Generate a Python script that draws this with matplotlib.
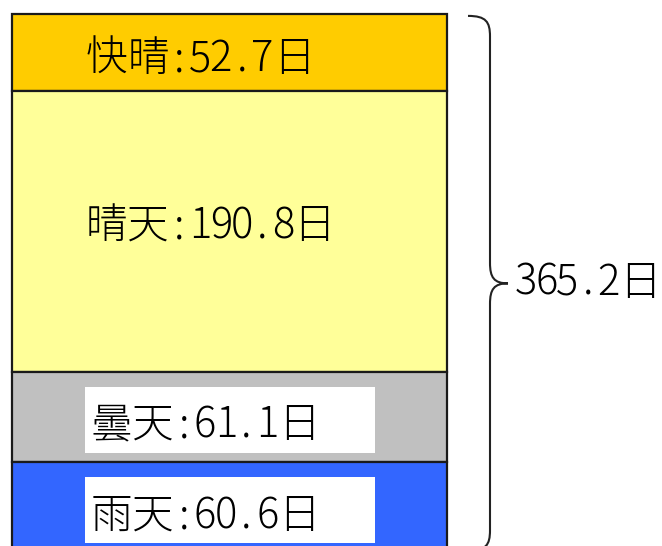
import matplotlib
matplotlib.use('Agg')
import matplotlib.pyplot as plt
from matplotlib.patches import Rectangle, PathPatch
from matplotlib.path import Path
import numpy as np

plt.rcParams['font.family'] = ['Noto Sans CJK JP', 'DejaVu Sans']

# data (days per year)
categories = ['快晴', '晴天', '曇天', '雨天']
days = [52.7, 190.8, 61.1, 60.6]
total = 365.2
colors = ['#FFCC00', '#FFFF99', '#C0C0C0', '#3366FF']
boxed = [False, False, True, True]

# layout (x in pixels, y in days)
label_x = [86, 86, 91, 91]
label_base = [38.8, 99.7, 44.3, 45.1]   # baseline below segment start
EM = 41.5                                # monospace cell, pixels


def mono_text(x, y, s, size=30):
    # draw like a fixed-pitch gothic font: half width for ascii
    for c in s:
        w = 0.5 if ord(c) < 128 else 1.0
        ax.text(x + w * EM / 2, y, c, fontsize=size, fontweight='light',
                ha='center', va='baseline', zorder=3)
        x += w * EM


fig = plt.figure(figsize=(6.62, 5.46), dpi=100)
ax = fig.add_axes([0, 0, 1, 1])
ax.set_xlim(0, 662)
ax.set_ylim(361.9, -9.52)
ax.axis('off')

starts = np.concatenate([[0], np.cumsum(days)[:-1]])
ax.bar(229.5, days, bottom=starts, width=435, color=colors,
       edgecolor='#1a1a1a', linewidth=1.6, zorder=1)

for i, cat in enumerate(categories):
    if boxed[i]:
        ax.add_patch(Rectangle((85, starts[i] + 10.3), 290, 45,
                               facecolor='white', edgecolor='none', zorder=2))
    mono_text(label_x[i], starts[i] + label_base[i], '%s:%.1f日' % (cat, days[i]))

# brace on the right
y0, y1 = 1.3, total
ym = (y0 + y1) / 2
xh, xv, xt = 468, 490, 508
verts = [(xh, y0), (486, y0), (xv, y0 + 4), (xv, y0 + 14),
         (xv, ym - 14),
         (xv, ym - 4), (494, ym), (xt, ym),
         (494, ym), (xv, ym + 4), (xv, ym + 14),
         (xv, y1 - 14),
         (xv, y1 - 4), (486, y1), (xh, y1)]
codes = [Path.MOVETO, Path.CURVE4, Path.CURVE4, Path.CURVE4,
         Path.LINETO,
         Path.CURVE4, Path.CURVE4, Path.CURVE4,
         Path.CURVE4, Path.CURVE4, Path.CURVE4,
         Path.LINETO,
         Path.CURVE4, Path.CURVE4, Path.CURVE4]
ax.add_patch(PathPatch(Path(verts, codes), facecolor='none',
                       edgecolor='#222222', linewidth=1.5))

mono_text(515, ym + 7.9, '%.1f日' % total)

fig.savefig('out.png', dpi=100)
